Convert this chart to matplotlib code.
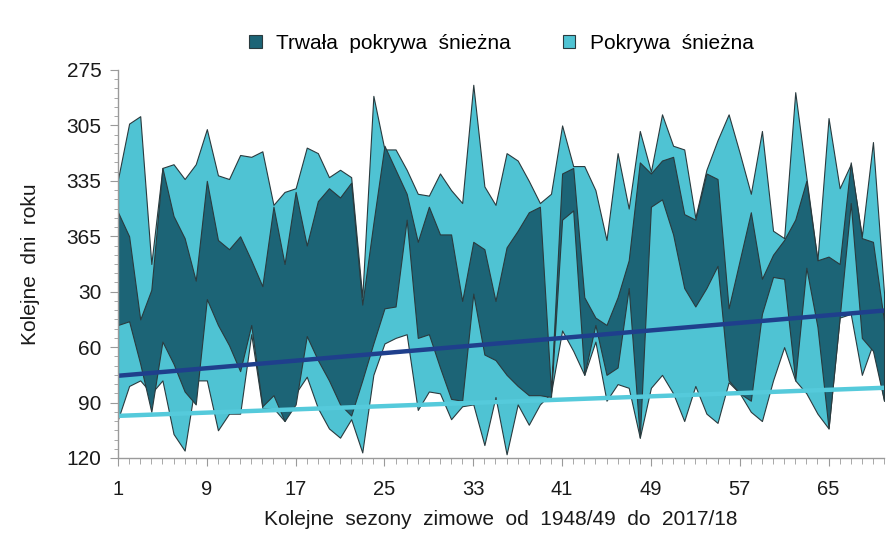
import matplotlib
matplotlib.use("Agg")
import matplotlib.pyplot as plt
from matplotlib.patches import Patch
from matplotlib.ticker import MultipleLocator

plt.rcParams['font.family'] = ['Liberation Sans', 'DejaVu Sans']

seasons = list(range(1, 71))

# Snow cover (Pokrywa śnieżna): first and last day (days counted from 1 Jan of first year; >365 = next year)
snow_start = [334, 304, 300, 380, 328, 326, 334, 326, 307, 332,
              334, 321, 322, 319, 348, 341, 339, 317, 320, 333,
              329, 333, 398, 289, 318, 318, 329, 342, 343, 331,
              340, 347, 283, 338, 348, 320, 324, 335, 347, 342,
              305, 327, 327, 340, 367, 320, 350, 308, 330, 299,
              316, 318, 355, 329, 313, 299, 320, 342, 308, 362,
              366, 287, 333, 378, 301, 339, 326, 365, 314, 396]
snow_end = [464, 446, 443, 450, 443, 472, 481, 443, 443, 470,
            461, 461, 418, 458, 458, 465, 450, 441, 458, 469,
            474, 464, 482, 440, 423, 420, 418, 459, 449, 450,
            464, 457, 456, 478, 452, 483, 456, 467, 456, 450,
            416, 427, 440, 422, 454, 445, 447, 474, 447, 440,
            450, 465, 446, 461, 466, 444, 450, 460, 465, 443,
            425, 443, 450, 461, 469, 409, 407, 440, 423, 454]

# Permanent snow cover (Trwała pokrywa śnieżna): first and last day
perm_start = [352, 365, 410, 394, 328, 354, 366, 389, 335, 367,
              372, 365, 378, 392, 349, 380, 341, 370, 346, 339,
              344, 336, 402, 358, 316, 329, 342, 368, 349, 364,
              364, 400, 368, 372, 400, 371, 362, 352, 349, 449,
              331, 328, 398, 409, 413, 398, 378, 325, 331, 324,
              322, 353, 356, 331, 334, 404, 378, 352, 388, 375,
              367, 356, 335, 378, 376, 380, 325, 366, 368, 411]
perm_end = [413, 411, 434, 460, 422, 434, 449, 456, 399, 413,
            424, 438, 413, 457, 451, 465, 456, 419, 432, 443,
            456, 462, 443, 423, 404, 403, 356, 420, 418, 436,
            453, 454, 396, 429, 432, 440, 446, 451, 451, 452,
            356, 351, 440, 413, 440, 436, 393, 474, 349, 345,
            364, 393, 403, 393, 381, 443, 450, 454, 407, 387,
            388, 443, 382, 414, 469, 409, 347, 420, 427, 454]

# Linear trends (end of season), values at first and last season
trend_x = [1, 70]
trend_perm = [440.5, 405.2]
trend_snow = [462.2, 447.0]

ytick_vals = [275, 305, 335, 365, 395, 425, 455, 485]
ytick_labels = ['275', '305', '335', '365', '30', '60', '90', '120']
xtick_vals = [1, 9, 17, 25, 33, 41, 49, 57, 65]

light = '#4fc3d3'
dark = '#1c6476'
edge = '#2a3a3e'
txt = '#1a1a1a'

fig = plt.figure(figsize=(8.86, 5.38), dpi=100)
ax = fig.add_axes([0.1332, 0.1487, 0.8646, 0.7212])

ax.fill_between(seasons, snow_start, snow_end, facecolor=light, edgecolor=edge, linewidth=0.8, zorder=2)
ax.fill_between(seasons, perm_start, perm_end, facecolor=dark, edgecolor=edge, linewidth=0.8, zorder=3)
ax.plot(trend_x, trend_snow, color='#55cadb', linewidth=3.2, zorder=4, solid_capstyle='butt')
ax.plot(trend_x, trend_perm, color='#1f3f8c', linewidth=3.2, zorder=5, solid_capstyle='butt')

ax.set_xlim(1, 70)
ax.set_ylim(485, 275)
ax.set_yticks(ytick_vals)
ax.set_yticklabels(ytick_labels)
ax.yaxis.set_minor_locator(MultipleLocator(5))
ax.set_xticks(xtick_vals)
ax.xaxis.set_minor_locator(MultipleLocator(1))

for s in ['top', 'right']:
    ax.spines[s].set_visible(False)
for s in ['left', 'bottom']:
    ax.spines[s].set_color('#9a9a9a')
    ax.spines[s].set_linewidth(1.0)
    ax.spines[s].set_zorder(6)

ax.tick_params(axis='both', which='both', color='#9a9a9a', labelcolor=txt)
ax.tick_params(axis='y', which='major', length=6, direction='out', pad=6, labelsize=15)
ax.tick_params(axis='y', which='minor', length=3, direction='out')
ax.tick_params(axis='x', which='major', length=6, direction='out', pad=10, labelsize=14.5)
ax.tick_params(axis='x', which='minor', length=4, direction='out')

ax.set_xlabel('Kolejne  sezony  zimowe  od  1948/49  do  2017/18', fontsize=15, color=txt, labelpad=8)
ax.set_ylabel('Kolejne  dni  roku', fontsize=15, color=txt, labelpad=19)

handles = [Patch(facecolor=dark, edgecolor=edge, linewidth=0.8),
           Patch(facecolor=light, edgecolor=edge, linewidth=0.8)]
fig.legend(handles, ['Trwała  pokrywa  śnieżna', 'Pokrywa  śnieżna'], loc='center',
           bbox_to_anchor=(0.566, 0.92), ncol=2, frameon=False, fontsize=15,
           handlelength=0.6, handleheight=0.6, columnspacing=2.5, handletextpad=0.7)

fig.savefig('out.png', dpi=100)
